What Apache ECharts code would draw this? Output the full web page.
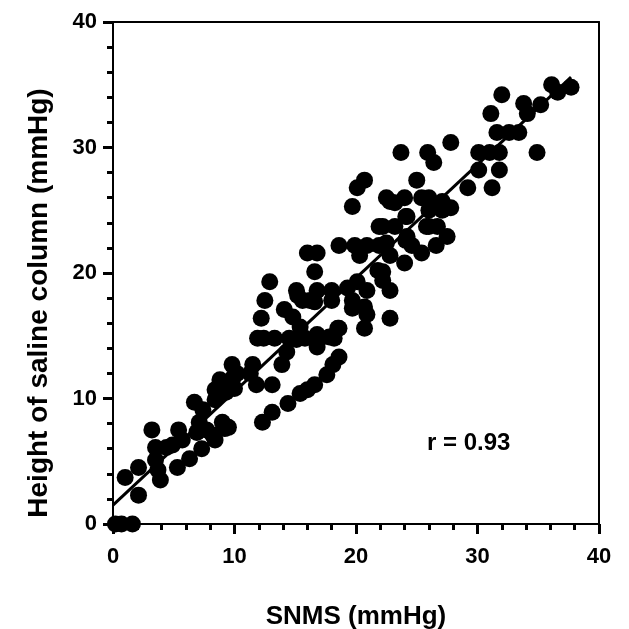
<!DOCTYPE html>
<html>
<head>
<meta charset="utf-8">
<script src="https://cdn.jsdelivr.net/npm/echarts@6/dist/echarts.min.js"></script>
<style>
  html, body { margin: 0; padding: 0; background: #fff; }
  #chart { width: 629px; height: 629px; }
</style>
</head>
<body>
<div id="chart"></div>
<script>
"use strict";

// SNMS (mmHg)
const snms = [
  0.2, 0.7, 1.6,
  1.0, 2.1, 2.1, 3.2, 3.5, 3.5, 3.7, 3.9, 4.4, 4.9, 5.3, 5.4, 5.7, 6.3,
  6.7, 7.4, 7.1, 6.9, 7.3, 7.7, 8.4, 9.0, 9.2, 9.5, 8.2,
  8.4, 8.4, 8.8, 9.8, 9.9, 9.3, 9.6, 10.2, 10.0, 11.3, 11.5, 11.8, 13.1,
  12.3, 13.1, 14.4, 15.4, 16.0, 16.6, 17.6, 18.1, 18.6,
  13.9, 14.3, 16.8,
  11.9, 12.4, 13.3, 14.5, 15.8, 17.0, 18.2,
  18.5, 12.2, 12.5, 12.9, 14.1, 15.2, 16.2,
  14.8, 15.4, 16.8, 17.8, 15.1,
  15.6, 16.6, 18.0, 19.7, 20.7, 19.7, 20.9, 20.7, 22.8, 18.6,
  15.1, 16.8, 18.0, 19.3, 20.1, 20.9,
  16.0, 16.8, 16.6,
  18.6, 19.9, 20.9, 21.9, 24.1, 24.6, 26.6,
  20.3, 22.8, 24.0, 25.4,
  21.8, 22.2, 22.8, 22.2,
  19.7, 22.8, 24.1, 21.9, 23.2, 26.0,
  20.7, 20.1,
  23.7, 25.9, 26.4, 27.8, 25.0,
  22.5, 24.0, 23.2, 25.4, 26.0, 27.1, 27.8, 26.0, 27.1, 24.2,
  22.2, 25.8, 26.7, 27.5, 24.2, 22.5,
  29.2, 31.2, 30.1, 31.8,
  30.1, 31.0, 31.8, 34.9,
  31.6, 32.6, 33.4, 31.1, 34.1,
  32.0, 33.8, 35.2, 36.1, 36.6, 37.7
];

// height of saline column (mmHg), same order as snms
const saline = [
  0, 0, 0,
  3.7, 4.5, 2.3, 7.5, 6.1, 5.1, 4.3, 3.5, 6.1, 6.3, 4.5, 7.5, 6.7, 5.2,
  9.7, 9.1, 8.1, 7.3, 6.0, 7.5, 6.7, 8.1, 7.6, 7.7, 7.1,
  9.9, 10.7, 11.5, 12.7, 11.7, 10.5, 11.2, 12.0, 10.8, 12.0, 12.7, 11.1, 11.1,
  8.1, 8.9, 9.6, 10.4, 10.7, 11.1, 11.9, 12.7, 13.3,
  12.7, 13.7, 14.1,
  14.8, 14.8, 14.8, 14.8, 14.8, 14.8, 14.8,
  15.6, 16.4, 17.8, 19.3, 17.1, 18.2, 17.8,
  16.5, 15.7, 15.1, 14.9, 14.7,
  17.8, 17.7, 17.8, 17.8, 17.3, 17.2, 16.7, 15.6, 16.4, 15.6,
  18.6, 18.6, 18.6, 18.8, 19.3, 18.6,
  21.6, 21.6, 20.1,
  22.2, 22.2, 22.2, 22.2, 22.6, 22.2, 22.2,
  21.4, 21.4, 20.8, 21.6,
  20.2, 19.4, 18.6, 20.1,
  25.3, 25.7, 24.5, 23.7, 23.7, 23.7,
  27.4, 26.8,
  29.6, 29.6, 28.8, 30.4, 27.4,
  26.0, 26.0, 25.6, 26.0, 26.0, 25.7, 25.2, 25.0, 25.0, 24.5,
  23.7, 23.7, 23.7, 22.9, 22.9, 22.4,
  26.8, 26.8, 28.2, 28.2,
  29.6, 29.6, 29.6, 29.6,
  31.2, 31.2, 31.2, 32.7, 32.7,
  34.2, 33.5, 33.4, 35.0, 34.4, 34.8
];

// regression line end points
const fitX = [0, 37.7];
const fitY = [1.5, 35.6];

const axisMin = 0;
const axisMax = 40;
const majorStep = 10;
const minorStep = 2;

const chart = echarts.init(document.getElementById("chart"));
const font = "'Liberation Sans', Arial, Helvetica, sans-serif";

const points = snms.map((x, i) => [x, saline[i]]);
const fit = fitX.map((x, i) => [x, fitY[i]]);

const labelStyle = { color: "#000", fontSize: 22, fontWeight: "bold", fontFamily: font };
const nameStyle = { color: "#000", fontSize: 26, fontWeight: "bold", fontFamily: font };

// plot box in px
const L = 113, R = 30, T = 22, B = 105;

const mainAxis = () => ({
  type: "value",
  min: axisMin,
  max: axisMax,
  interval: majorStep,
  splitLine: { show: false },
  axisLine: { show: true, onZero: false, lineStyle: { color: "#000", width: 2 } },
  axisTick: { show: true, inside: false, length: 10, lineStyle: { color: "#000", width: 3 } },
});

const frameAxis = (position) => ({
  type: "value",
  position,
  min: axisMin,
  max: axisMax,
  splitLine: { show: false },
  axisLine: { show: true, onZero: false, lineStyle: { color: "#000", width: 2 } },
  axisTick: { show: false },
  axisLabel: { show: false },
});

// thin strip grids next to the axes: their split lines are the small ticks
const stripAxis = (gridIndex, lines) => ({
  type: "value",
  gridIndex,
  min: axisMin,
  max: axisMax,
  interval: minorStep,
  axisLine: { show: false },
  axisTick: { show: false },
  axisLabel: { show: false },
  splitLine: { show: lines, lineStyle: { color: "#000", width: 3 } },
});

/** @type {echarts.EChartsOption} */
const options = {
  backgroundColor: "#fff",
  animation: false,
  title: {
    text: "r = 0.93",
    left: 422,
    top: 426,
    textStyle: { color: "#000", fontSize: 24, fontWeight: "bold", fontFamily: font },
  },
  grid: [
    { left: L, right: R, top: T, bottom: B, outerBoundsMode: "none" },
    { left: L, right: R, top: 629 - B, height: 6, outerBoundsMode: "none" },
    { left: L - 6, width: 6, top: T, bottom: B, outerBoundsMode: "none" },
  ],
  xAxis: [
    {
      ...mainAxis(),
      position: "bottom",
      name: "SNMS (mmHg)",
      nameLocation: "middle",
      nameGap: 80,
      nameTextStyle: nameStyle,
      axisLabel: { ...labelStyle, margin: 22 },
    },
    frameAxis("top"),
    stripAxis(1, true),
    stripAxis(2, false),
  ],
  yAxis: [
    {
      ...mainAxis(),
      position: "left",
      name: "Height of saline column (mmHg)",
      nameLocation: "middle",
      nameGap: 60,
      nameTextStyle: { ...nameStyle, fontSize: 28, padding: [0, 60, 0, 0] },
      axisLabel: { ...labelStyle, margin: 16 },
    },
    frameAxis("right"),
    stripAxis(1, false),
    stripAxis(2, true),
  ],
  series: [
    {
      type: "line",
      data: fit,
      symbol: "none",
      lineStyle: { color: "#000", width: 3 },
      z: 3,
    },
    {
      type: "scatter",
      data: points,
      symbol: "circle",
      symbolSize: 17,
      itemStyle: { color: "#000", opacity: 1 },
      z: 2,
    },
  ],
};

chart.setOption(options);
</script>
</body>
</html>
